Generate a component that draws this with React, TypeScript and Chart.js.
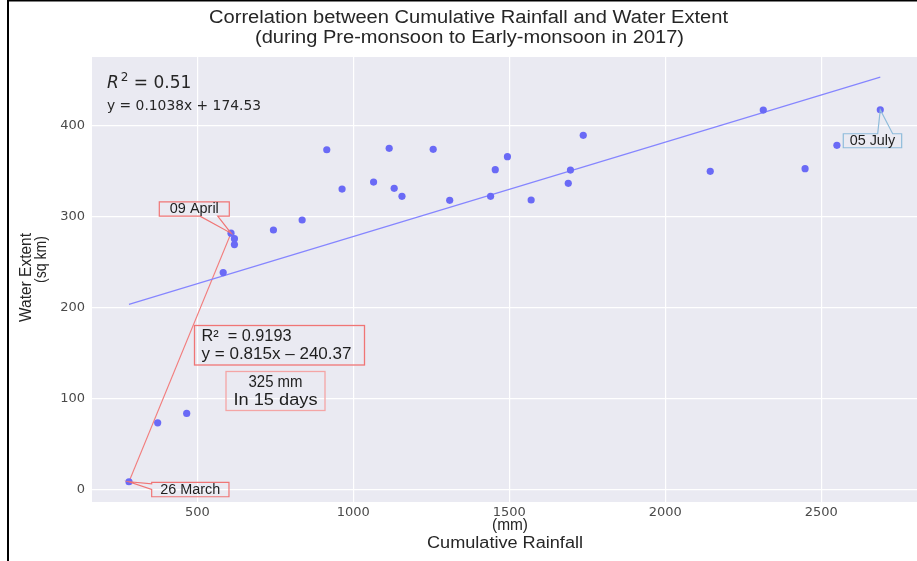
import React, { useEffect, useRef } from 'react';
import { Chart, registerables } from 'chart.js';

Chart.register(...registerables);

// ---- Data ----
const rainfall = [281, 373, 466, 583, 608, 619, 619, 744, 836, 915, 964, 1065, 1115, 1131, 1156, 1256, 1309, 1440, 1455, 1494, 1570, 1689, 1696, 1737, 2144, 2314, 2448, 2550, 2689];
const waterExtent = [8.6, 73.4, 83.7, 238.7, 282, 276, 269.5, 285.5, 296.5, 373.8, 330.5, 338.2, 375.3, 331.3, 322.5, 374.2, 318.1, 322.5, 351.9, 366.2, 318.5, 336.8, 351.4, 389.6, 350, 417.4, 353, 378.6, 417.8];
const xTicks = [500, 1000, 1500, 2000, 2500];
const yTicks = [0, 100, 200, 300, 400];
const fitSlope = 0.1038;
const fitIntercept = 174.53;
const fitR2 = '0.51';
const fitEquation = 'y = 0.1038x + 174.53';
const earlyStartIdx = 0; // 26 March
const earlyEndIdx = 4; // 09 April
const earlyR2 = 'R\u00B2  = 0.9193';
const earlyEquation = 'y = 0.815x \u2013 240.37';
const earlyNote = ['325 mm', 'In 15 days'];
const titleLines = ['Correlation between Cumulative Rainfall and Water Extent', '(during Pre-monsoon to Early-monsoon in 2017)'];
const xTitleLines = ['(mm)', 'Cumulative Rainfall'];
const yTitleLines = ['Water Extent', '(sq km)'];
const callouts = [
  { idx: 0, text: '26 March' },
  { idx: 4, text: '09 April' },
  { idx: 28, text: '05 July' },
];

const W = 917;
const H = 561;

function fitText(ctx: CanvasRenderingContext2D, text: string, x: number, y: number, font: string, width: number | null, align: CanvasTextAlign = 'center', color = '#222') {
  ctx.save();
  ctx.font = font;
  ctx.fillStyle = color;
  ctx.textBaseline = 'middle';
  const w = ctx.measureText(text).width;
  const s = width ? width / w : 1;
  ctx.translate(x, y);
  ctx.scale(s, 1);
  ctx.textAlign = align;
  ctx.fillText(text, 0, 0);
  ctx.restore();
}

const decorPlugin = {
  id: 'decor',
  beforeDraw(chart: any) {
    const { ctx, chartArea: a } = chart;
    ctx.save();
    ctx.fillStyle = '#ffffff';
    ctx.fillRect(0, 0, W, H);
    ctx.fillStyle = '#EAEAF2';
    ctx.fillRect(a.left, a.top, a.right - a.left, a.bottom - a.top);
    ctx.fillStyle = '#000';
    ctx.fillRect(7, 0, 2, H);
    ctx.fillRect(7, 0, W - 7, 1.5);
    ctx.restore();
  },
  afterDraw(chart: any) {
    const { ctx } = chart;
    const xs = chart.scales.x;
    const ys = chart.scales.y;
    const sans = "'Liberation Sans', Arial, sans-serif";

    // Title
    fitText(ctx, titleLines[0], 468.5, 18, `18px ${sans}`, 519, 'center', '#262626');
    fitText(ctx, titleLines[1], 469.5, 38.5, `18px ${sans}`, 429, 'center', '#262626');

    // Axis titles
    fitText(ctx, xTitleLines[0], 510, 526, `16px ${sans}`, 36, 'center', '#262626');
    fitText(ctx, xTitleLines[1], 505, 544, `16px ${sans}`, 156, 'center', '#262626');
    ctx.save();
    ctx.translate(27, 233);
    ctx.rotate(-Math.PI / 2);
    fitText(ctx, yTitleLines[0], 0, 0, `16px ${sans}`, 89, 'right', '#262626');
    ctx.restore();
    ctx.save();
    ctx.translate(42, 236);
    ctx.rotate(-Math.PI / 2);
    fitText(ctx, yTitleLines[1], 0, 0, `16px ${sans}`, 47, 'right', '#262626');
    ctx.restore();

    // R^2 = 0.51 and equation
    ctx.save();
    ctx.fillStyle = '#262626';
    ctx.textBaseline = 'alphabetic';
    ctx.textAlign = 'left';
    let cx = 107;
    ctx.font = "italic 17px 'DejaVu Sans'";
    ctx.fillText('R', cx, 88);
    cx += ctx.measureText('R').width + 2;
    ctx.font = "12px 'DejaVu Sans'";
    ctx.fillText('2', cx, 81);
    cx += ctx.measureText('2').width;
    ctx.font = "17px 'DejaVu Sans'";
    ctx.fillText(' = ' + fitR2, cx, 88);
    ctx.restore();
    fitText(ctx, fitEquation, 107, 106.5, "14px 'DejaVu Sans'", 154, 'left', '#262626');

    // Early-monsoon regression boxes
    ctx.save();
    ctx.strokeStyle = '#f07575';
    ctx.lineWidth = 1.3;
    ctx.strokeRect(194.5, 325.5, 170, 39.5);
    ctx.strokeStyle = '#f4a5a5';
    ctx.strokeRect(226, 371.5, 99, 39);
    ctx.restore();
    fitText(ctx, earlyR2, 201.5, 336.5, `16px ${sans}`, 90, 'left', '#1e1e1e');
    fitText(ctx, earlyEquation, 201.5, 354.5, `16px ${sans}`, 150, 'left', '#1e1e1e');
    fitText(ctx, earlyNote[0], 275.5, 382.5, `16px ${sans}`, 54, 'center', '#1e1e1e');
    fitText(ctx, earlyNote[1], 275.5, 400.5, `16px ${sans}`, 84, 'center', '#1e1e1e');

    // Callouts
    const geo: Record<string, any> = {
      '26 March': { dx: 22.7, dy: 0.6, w: 77.3, h: 14.4, side: 'left', c1: 1.5, c2: 7, tw: 60, color: '#f07575' },
      '09 April': { dx: -71.7, dy: -31.3, w: 70, h: 14.3, side: 'bottom', c1: 40.7, c2: 58.4, tw: 49, color: '#f07575' },
      '05 July': { dx: -37, dy: 24, w: 58.4, h: 14, side: 'top', c1: 34.4, c2: 49.4, tw: 45.5, color: '#8fbcdb' },
    };
    callouts.forEach((c) => {
      const g = geo[c.text];
      const px = xs.getPixelForValue(rainfall[c.idx]);
      const py = ys.getPixelForValue(waterExtent[c.idx]);
      const bx = px + g.dx;
      const by = py + g.dy;
      ctx.save();
      ctx.strokeStyle = g.color;
      ctx.lineWidth = 1.2;
      ctx.beginPath();
      if (g.side === 'top') {
        ctx.moveTo(bx, by);
        ctx.lineTo(bx + g.c1, by);
        ctx.lineTo(px, py);
        ctx.lineTo(bx + g.c2, by);
        ctx.lineTo(bx + g.w, by);
        ctx.lineTo(bx + g.w, by + g.h);
        ctx.lineTo(bx, by + g.h);
        ctx.closePath();
      } else if (g.side === 'bottom') {
        ctx.moveTo(bx, by);
        ctx.lineTo(bx + g.w, by);
        ctx.lineTo(bx + g.w, by + g.h);
        ctx.lineTo(bx + g.c2, by + g.h);
        ctx.lineTo(px, py);
        ctx.lineTo(bx + g.c1, by + g.h);
        ctx.lineTo(bx, by + g.h);
        ctx.closePath();
      } else {
        ctx.moveTo(bx, by);
        ctx.lineTo(bx + g.w, by);
        ctx.lineTo(bx + g.w, by + g.h);
        ctx.lineTo(bx, by + g.h);
        ctx.lineTo(bx, by + g.c2);
        ctx.lineTo(px, py);
        ctx.lineTo(bx, by + g.c1);
        ctx.closePath();
      }
      ctx.stroke();
      ctx.restore();
      fitText(ctx, c.text, bx + g.w / 2, by + g.h / 2 + 0.5, `14px ${sans}`, g.tw, 'center', '#1e1e1e');
    });
  },
};

export default function App() {
  const ref = useRef<HTMLCanvasElement | null>(null);

  useEffect(() => {
    if (!ref.current) return;
    const points = rainfall.map((x, i) => ({ x, y: waterExtent[i] }));
    const xMin = Math.min(...rainfall);
    const xMax = Math.max(...rainfall);
    const trend = [
      { x: xMin, y: fitSlope * xMin + fitIntercept },
      { x: xMax, y: fitSlope * xMax + fitIntercept },
    ];
    const early = [
      { x: rainfall[earlyStartIdx], y: waterExtent[earlyStartIdx] },
      { x: rainfall[earlyEndIdx], y: waterExtent[earlyEndIdx] },
    ];
    const tickFont = { family: "'DejaVu Sans'", size: 13 };
    const chart = new Chart(ref.current, {
      type: 'scatter',
      data: {
        datasets: [
          {
            data: points,
            backgroundColor: '#6a6af6',
            borderWidth: 0,
            pointRadius: 3.6,
          },
          {
            data: trend,
            showLine: true,
            borderColor: '#8585ff',
            borderWidth: 1.1,
            pointRadius: 0,
          },
          {
            data: early,
            showLine: true,
            borderColor: '#f27d7d',
            borderWidth: 1.1,
            pointRadius: 0,
          },
        ],
      },
      options: {
        responsive: false,
        animation: false,
        devicePixelRatio: 1,
        layout: { autoPadding: false, padding: { top: 57, left: 0, right: 0, bottom: 0 } },
        plugins: {
          legend: { display: false },
          tooltip: { enabled: false },
          title: { display: false },
        },
        scales: {
          x: {
            type: 'linear',
            min: 162.5,
            max: 2806.7,
            afterBuildTicks: (a: any) => {
              a.ticks = xTicks.map((v) => ({ value: v }));
            },
            afterFit: (s: any) => {
              s.height = 59;
              s.paddingLeft = 0;
              s.paddingRight = 0;
            },
            grid: { color: '#ffffff', lineWidth: 1.2, drawTicks: false },
            border: { display: false },
            ticks: {
              padding: 3,
              font: tickFont,
              color: '#4a4a4a',
              maxRotation: 0,
              autoSkip: false,
              callback: (v: any) => String(v),
            },
          },
          y: {
            type: 'linear',
            min: -13.7,
            max: 475.8,
            afterBuildTicks: (a: any) => {
              a.ticks = yTicks.map((v) => ({ value: v }));
            },
            afterFit: (s: any) => {
              s.width = 92;
              s.paddingTop = 0;
              s.paddingBottom = 0;
            },
            grid: { color: '#ffffff', lineWidth: 1.2, drawTicks: false },
            border: { display: false },
            ticks: {
              padding: 7,
              font: tickFont,
              color: '#4a4a4a',
              autoSkip: false,
              callback: (v: any) => String(v),
            },
          },
        },
      },
      plugins: [decorPlugin],
    } as any);
    return () => chart.destroy();
  }, []);

  return (
    <div style={{ position: 'fixed', left: 0, top: 0, width: W, height: H, background: '#fff' }}>
      <canvas ref={ref} width={W} height={H} style={{ display: 'block', width: W, height: H }} />
    </div>
  );
}
